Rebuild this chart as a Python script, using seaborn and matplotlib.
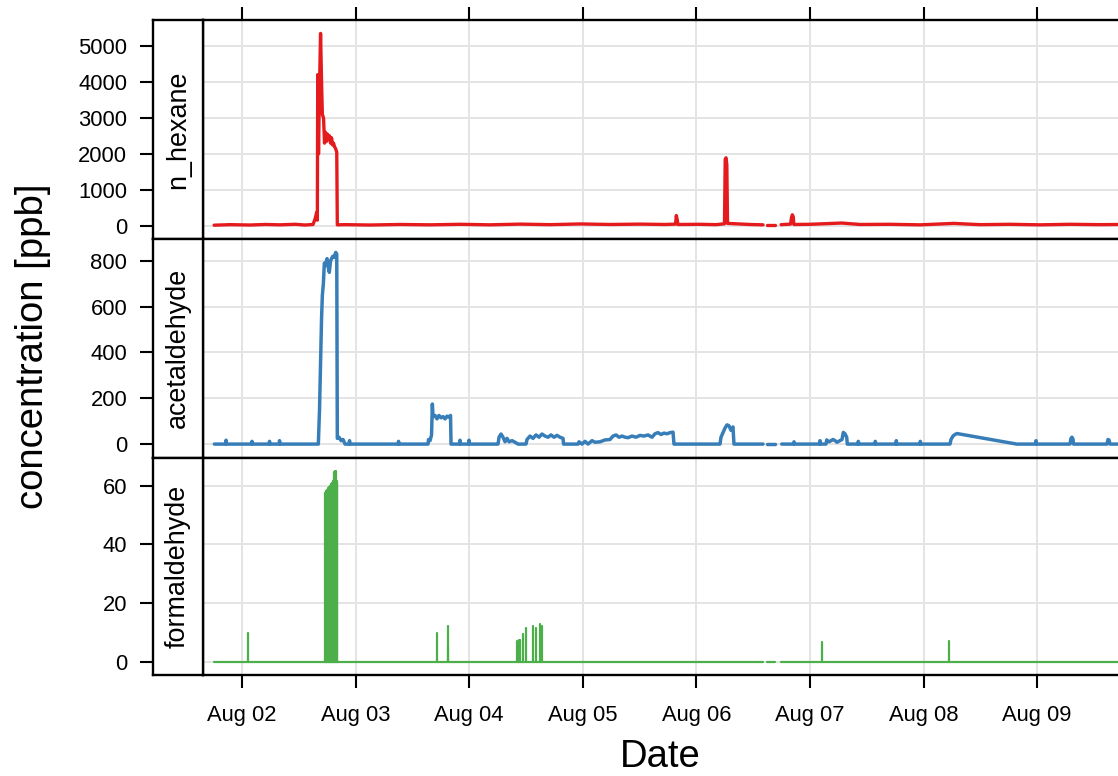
import numpy as np
import pandas as pd
import matplotlib
matplotlib.use("Agg")
import matplotlib.pyplot as plt
import matplotlib.dates as mdates
import seaborn as sns

sns.set_theme(style="white")
plt.rcParams["font.family"] = ["Liberation Sans", "DejaVu Sans"]

nan = np.nan
start = pd.Timestamp("2013-08-01 00:00")

# ---- n_hexane [ppb], time in hours after 2013-08-01 00:00 (NaN = no record)
hexane_hours = [18.1, 21.5, 25.7, 28.9, 32.0, 35.2, 37.3, 39.0, 39.42, 39.78, 39.91,
                39.99, 40.16, 40.33, 40.59, 40.80, 40.97, 41.22, 41.43, 41.64, 41.85,
                42.06, 42.28, 42.49, 42.70, 42.91, 43.12, 43.33, 43.54, 43.75, 44.01,
                44.13, 45.76, 51.0, 57.4, 63.7, 70.1, 76.4, 82.7, 89.1, 95.4, 101.8,
                108.1, 113.4, 115.6, 115.76, 115.97, 116.1, 120.8, 124.2, 125.94,
                126.09, 126.26, 126.43, 126.58, 128.2, 131.3, 134.08, nan, 134.86,
                136.70, nan, 137.9, 139.9, 140.1, 140.27, 140.46, 140.6, 144.0, 150.7,
                154.6, 160.9, 167.3, 174.4, 179.9, 186.3, 192.6, 198.9, 205.3, 209.08]
hexane_ppb = [10, 25, 15, 30, 20, 35, 15, 30, 180, 370, 150,
              4210, 2000, 3600, 5360, 4000, 3100, 3000, 2300, 2600, 2350,
              2550, 2400, 2500, 2300, 2450, 2250, 2300, 2200, 2150, 2050,
              20, 25, 15, 30, 20, 35, 20, 40, 25, 45, 30,
              40, 30, 40, 280, 150, 30, 35, 25, 50,
              1850, 1890, 1700, 60, 50, 30, 20, nan, 20,
              20, nan, 25, 40, 230, 300, 250, 30, 35, 70,
              30, 35, 20, 60, 25, 35, 20, 35, 25, 30]

# ---- acetaldehyde [ppb]
acet_hours = [18.15, 20.51, 20.62, 20.73, 26.01, 26.11, 26.22, 29.70, 29.81, 29.92, 31.82, 31.92, 32.03,
              40.12, 40.37, 40.63, 40.80, 40.97, 41.18, 41.39, 41.64, 41.96, 42.23, 42.44, 42.70,
              42.91, 43.16, 43.44, 43.80, 44.01, 44.13, 44.49, 44.92, 45.34, 45.76,
              46.61, 46.71, 46.82, 56.96, 57.07, 57.17,
              63.30, 63.40, 63.72, 64.04, 64.21, 64.35, 64.78, 65.20, 65.62, 66.04, 66.47, 66.89,
              67.31, 67.73, 68.05, 68.16,
              69.95, 70.06, 70.16, 71.85, 71.96, 72.06,
              78.09, 78.30, 78.72, 79.14, 79.57, 79.99, 80.41, 81.05, 81.68, 82.31,
              84.00, 84.21, 84.85, 85.48, 86.12, 86.75, 87.38, 88.02, 88.65, 89.28, 89.92, 90.55,
              91.19, 91.82, 91.93,
              94.99, 95.20, 95.84, 96.47, 97.10, 97.95, 98.58, 99.64, 100.70, 101.75, 102.39,
              103.02, 103.65, 104.29, 104.92, 105.55, 106.40, 107.24, 108.09, 108.93, 109.78,
              110.62, 111.26, 111.89, 112.53, 113.16, 113.79, 114.43, 115.06, 115.27,
              124.99, 125.20, 125.62, 126.05, 126.47, 126.89, 127.31, 127.73, 127.94,
              134.08, nan, 134.86, 136.70, nan, 138.03,
              140.52, 140.63, 140.73, 146.01, 146.12, 146.22,
              147.39, 147.54, 148.03, 148.87, 149.29, 149.71, 150.77, 151.04, 151.40, 151.76, 151.89,
              154.15, 154.21, 154.32, 157.74, 157.80, 157.91, 162.18, 162.24, 162.35,
              167.25, 167.31, 167.42,
              173.59, 173.80, 174.22, 174.64, 175.07, 187.68,
              191.65, 191.76, 191.86, 198.94, 199.15, 199.36, 199.58, 199.68,
              206.76, 206.97, 207.18, 207.39, 209.08]
acet_ppb = [0, 0, 17, 0, 0, 12, 0, 0, 12, 0, 0, 15, 0,
            0, 150, 400, 550, 650, 700, 790, 780, 810, 770, 750, 800,
            810, 820, 815, 837, 830, 25, 30, 15, 20, 0,
            0, 15, 0, 0, 12, 0,
            0, 20, 15, 40, 175, 120, 125, 110, 125, 115, 120, 110,
            122, 118, 125, 0,
            0, 17, 0, 0, 17, 0,
            0, 30, 44, 30, 10, 25, 10, 15, 8, 0,
            0, 20, 35, 25, 40, 30, 44, 35, 30, 40, 30, 38,
            30, 25, 0,
            0, 10, 0, 12, 0, 15, 8, 10, 18, 20, 35,
            40, 30, 35, 30, 28, 35, 30, 38, 35, 40,
            30, 45, 50, 42, 48, 45, 50, 52, 0,
            0, 30, 50, 70, 84, 80, 60, 75, 0,
            0, nan, 0, 0, nan, 0,
            0, 10, 0, 0, 15, 0,
            0, 18, 10, 20, 15, 8, 20, 51, 45, 30, 0,
            0, 12, 0, 0, 12, 0, 0, 15, 0,
            0, 12, 0,
            0, 20, 35, 42, 46, 0,
            0, 15, 0, 0, 25, 30, 22, 0,
            0, 20, 18, 0, 0]

# ---- formaldehyde [ppb]: zero baseline plus short spikes
form_base_hours = [18.15, 134.08, nan, 134.86, 136.70, nan, 137.90, 209.08]
form_base_ppb = [0, 0, nan, 0, 0, nan, 0, 0]
form_spike_hours = [25.20,
                    41.55, 41.68, 41.80, 41.93, 42.06, 42.19, 42.32, 42.45, 42.58, 42.71, 42.84,
                    42.97, 43.10, 43.23, 43.36, 43.49, 43.62, 43.75, 43.88, 44.01, 44.10,
                    65.26, 67.52, 67.62, 82.17, 82.53, 82.80, 83.43, 83.94, 85.55, 86.01,
                    86.96, 87.38, 146.48, 173.29]
form_spike_ppb = [9.6,
                  57.5, 58.0, 58.0, 58.5, 58.5, 59.0, 59.0, 59.5, 59.8, 60.0, 60.5,
                  61.0, 61.0, 61.5, 62.5, 64.5, 65.0, 64.8, 62.0, 61.5, 61.0,
                  9.6, 12.1, 5.0, 7.1, 7.3, 7.5, 9.5, 11.5, 12.1, 11.3,
                  12.7, 12.0, 6.8, 7.0]

panel_names = ["n_hexane", "acetaldehyde", "formaldehyde"]
panel_colors = ["#E41A1C", "#377EB8", "#4DAF4A"]
panel_lw = [2.4, 2.5, 1.6]
panel_yticks = [[0, 1000, 2000, 3000, 4000, 5000],
                [0, 200, 400, 600, 800],
                [0, 20, 40, 60]]
x_range_hours = (15.75, 209.93)


def to_frame(hours, values):
    h = np.asarray(hours, dtype=float)
    v = np.asarray(values, dtype=float)
    seg = np.cumsum(np.isnan(v))
    df = pd.DataFrame({"date": start + pd.to_timedelta(np.nan_to_num(h), unit="h"),
                       "ppb": v, "seg": seg})
    return df.dropna()


def spike_frame(hours, tops):
    rows = []
    for i, (h, top) in enumerate(zip(hours, tops)):
        rows.append((h, 0.0, i))
        rows.append((h, top, i))
    df = pd.DataFrame(rows, columns=["hours", "ppb", "seg"])
    df["date"] = start + pd.to_timedelta(df["hours"], unit="h")
    return df


hexane_df = to_frame(hexane_hours, hexane_ppb)
acet_df = to_frame(acet_hours, acet_ppb)
form_df = to_frame(form_base_hours, form_base_ppb)
form_spikes = spike_frame(form_spike_hours, form_spike_ppb)

W, H = 1118, 776
fig = plt.figure(figsize=(W / 100, H / 100), dpi=100)

rows_px = [(20, 239), (239, 457.5), (457.5, 675)]
left_px, strip_px, right_px = 153, 203, 1122
frame_lw = 1.7
tick_len = 9.5


def px_box(l, t, r, b):
    return [l / W, 1 - b / H, (r - l) / W, (b - t) / H]


xmin = start + pd.Timedelta(hours=x_range_hours[0])
xmax = start + pd.Timedelta(hours=x_range_hours[1])

series = [[hexane_df], [acet_df], [form_df, form_spikes]]
peaks = [np.nanmax(hexane_ppb), np.nanmax(acet_ppb), max(form_spike_ppb)]

for i, (top, bot) in enumerate(rows_px):
    ax = fig.add_axes(px_box(strip_px, top, right_px, bot))
    ax_s = fig.add_axes(px_box(left_px, top, strip_px, bot), sharey=ax)

    for df in series[i]:
        sns.lineplot(data=df, x="date", y="ppb", units="seg", estimator=None,
                     sort=False, color=panel_colors[i], linewidth=panel_lw[i],
                     ax=ax, legend=False)

    pad = 0.07 * peaks[i]
    ax.set_ylim(-pad, peaks[i] + pad)
    ax.set_yticks(panel_yticks[i])
    ax.set_xlim(xmin, xmax)
    ax.xaxis.set_major_locator(mdates.DayLocator())
    ax.xaxis.set_major_formatter(mdates.DateFormatter("%b %d"))
    ax.set_xlabel("")
    ax.set_ylabel("")
    ax.grid(True, color="#E4E4E4", linewidth=1.4)
    ax.set_axisbelow(True)
    for sp in ax.spines.values():
        sp.set_color("black")
        sp.set_linewidth(frame_lw)
    ax.tick_params(axis="y", left=False, right=False, labelleft=False)
    ax.tick_params(axis="x", direction="out", length=tick_len, width=1.5,
                   color="black", labelsize=15.8, labelcolor="black", pad=12,
                   top=(i == 0), bottom=(i == 2), labeltop=False,
                   labelbottom=(i == 2))

    # strip with variable name and the y scale
    ax_s.set_xticks([])
    ax_s.set_facecolor("white")
    for sp in ax_s.spines.values():
        sp.set_color("black")
        sp.set_linewidth(frame_lw)
    ax_s.tick_params(axis="y", direction="out", left=True, labelleft=True,
                     length=tick_len, width=1.5, color="black", labelsize=15.8,
                     labelcolor="black", pad=9)
    ax_s.text(0.5, 0.5, panel_names[i], rotation=90, ha="center", va="center",
              fontsize=19.4, color="black", transform=ax_s.transAxes)

fig.text(33 / W, 1 - 346 / H, "concentration [ppb]", rotation=90,
         ha="center", va="center", fontsize=27.5, color="black")
fig.text(660 / W, 1 - 757 / H, "Date", ha="center", va="center",
         fontsize=27.5, color="black")

fig.savefig("out.png", dpi=100, facecolor="white")
